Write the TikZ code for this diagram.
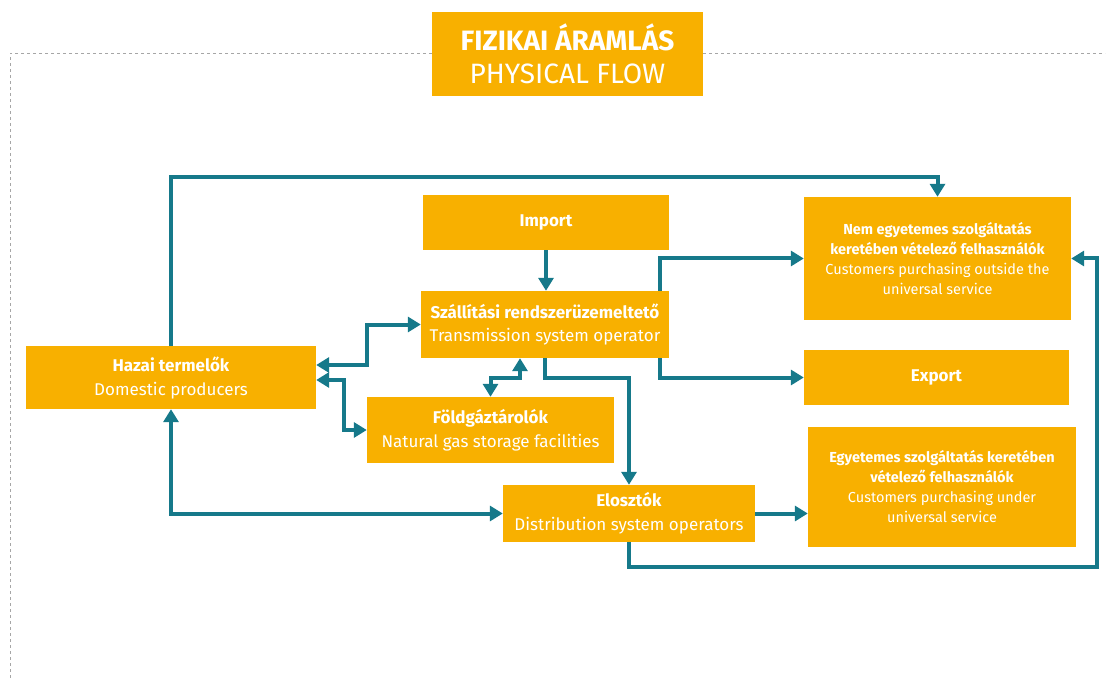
\documentclass[tikz,border=0pt]{standalone}
\usepackage{fontspec}
\setmainfont{Fira Sans}
\usetikzlibrary{arrows.meta,positioning,calc}

\definecolor{boxorange}{HTML}{F8B000}
\definecolor{flowteal}{HTML}{16798A}

\tikzset{
  stepbox/.style={fill=boxorange, text=white, align=center, inner sep=2pt,
    font=\fontsize{17}{24}\selectfont},
  smallbox/.style={stepbox, font=\fontsize{14.5}{20}\selectfont},
  flow/.style={draw=flowteal, line width=4pt,
    -{Triangle[length=13pt,width=15pt]}},
  bothflow/.style={flow, {Triangle[length=13pt,width=15pt]}-{Triangle[length=13pt,width=15pt]}},
}

\begin{document}
\begin{tikzpicture}[x=1pt, y=-1pt]
  \useasboundingbox (0,0) rectangle (1109,679);

  % frame
  \draw[gray!70, dashed, line width=0.8pt] (432,53) -- (10,53) -- (10,679);
  \draw[gray!70, dashed, line width=0.8pt] (703,53) -- (1105,53);

  % title
  \node[stepbox, minimum width=271pt, minimum height=84pt,
        font=\fontsize{28}{33}\selectfont] (title) at (567.5,54)
        {\textbf{FIZIKAI ÁRAMLÁS}\\PHYSICAL FLOW};

  % boxes
  \node[stepbox, minimum width=246pt, minimum height=55pt] (import) at (546,222.5) {\textbf{Import}};
  \node[stepbox, minimum width=248pt, minimum height=67pt] (szall) at (545,324.5)
        {\textbf{Szállítási rendszerüzemeltető}\\Transmission system operator};
  \node[stepbox, minimum width=290pt, minimum height=63pt] (hazai) at (171,377.5)
        {\textbf{Hazai termelők}\\Domestic producers};
  \node[stepbox, minimum width=247pt, minimum height=66pt] (fold) at (490.5,430)
        {\textbf{Földgáztárolók}\\Natural gas storage facilities};
  \node[stepbox, minimum width=252pt, minimum height=57pt] (elos) at (629,513.5)
        {\textbf{Elosztók}\\Distribution system operators};
  \node[smallbox, minimum width=267pt, minimum height=123pt] (nem) at (937.5,258.5)
        {\textbf{Nem egyetemes szolgáltatás}\\\textbf{keretében vételező felhasználók}\\Customers purchasing outside the\\universal service};
  \node[stepbox, minimum width=265pt, minimum height=55pt] (export) at (936.5,377.5) {\textbf{Export}};
  \node[smallbox, minimum width=268pt, minimum height=120pt] (egy) at (942,487)
        {\textbf{Egyetemes szolgáltatás keretében}\\\textbf{vételező felhasználók}\\Customers purchasing under\\universal service};

  % flows
  \coordinate (topbend) at (nem.north |- 0,177); % helper
  \draw[flow] (hazai.north) |- (topbend) -- (nem.north);
  \draw[flow] (import.south) -- (import.south |- szall.north);
  \draw[bothflow] (szall.west) -| (367,365) -- (hazai.east |- 0,365);
  \draw[bothflow] (fold.west) -| (344,380) -- (hazai.east |- 0,380);
  \draw[bothflow] (fold.north) |- (520,378) -- (szall.south -| 520,0);
  \draw[flow] (szall.south) |- (elos.north |- 0,378) -- (elos.north);
  \draw[flow] (szall.north -| 660,0) |- (nem.west);
  \draw[flow] (szall.south -| 660,0) |- (export.west);
  \draw[bothflow] (hazai.south) |- (elos.west);
  \draw[flow] (elos.east) -- (egy.west |- elos.east);
  \coordinate (rightbend) at (1097,567); % helper
  \draw[flow] (elos.south) |- (rightbend) |- (nem.east);
\end{tikzpicture}
\end{document}
